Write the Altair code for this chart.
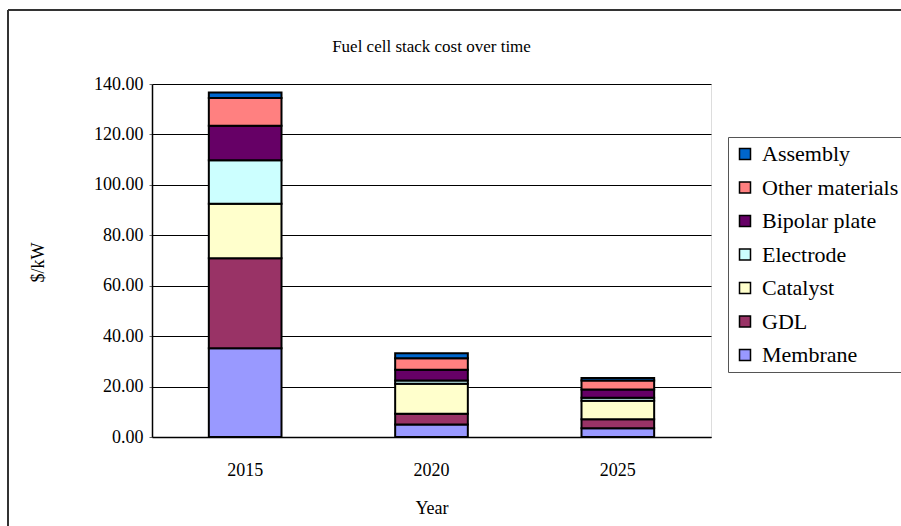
import altair as alt
import pandas as pd

# Stack cost components ($/kW) by year
years = ["2015", "2020", "2025"]
components = ["Membrane", "GDL", "Catalyst", "Electrode", "Bipolar plate", "Other materials", "Assembly"]
membrane = [35.2, 5.0, 3.5]
gdl = [35.7, 4.2, 3.5]
catalyst = [21.6, 11.9, 7.4]
electrode = [17.3, 1.3, 1.2]
bipolar_plate = [13.6, 4.3, 3.2]
other_materials = [11.0, 4.5, 3.6]
assembly = [2.2, 2.0, 1.0]

colors = ["#9999FF", "#993366", "#FFFFCC", "#CCFFFF", "#660066", "#FF8080", "#0066CC"]
series = [membrane, gdl, catalyst, electrode, bipolar_plate, other_materials, assembly]

chart_title = "Fuel cell stack cost over time"

rows = []
for i, (name, vals) in enumerate(zip(components, series)):
    for y, v in zip(years, vals):
        rows.append({"Year": y, "Component": name, "Cost": v, "order": i})
df = pd.DataFrame(rows)

FONT = "Liberation Serif"
legend_order = components[::-1]
legend_colors = colors[::-1]

bars = alt.Chart(df).mark_bar(stroke="black", strokeWidth=2).encode(
    x=alt.X(
        "Year:N",
        sort=years,
        scale=alt.Scale(paddingInner=0.61, paddingOuter=0.305),
        axis=alt.Axis(
            title="Year",
            labelAngle=0,
            ticks=False,
            labelPadding=24,
            labelFontSize=18,
            labelFont=FONT,
            labelColor="black",
            titleFont=FONT,
            titleFontSize=18,
            titleFontWeight="normal",
            titleColor="black",
            titleY=71,
            titleBaseline="middle",
            domainColor="black",
            domainWidth=1.5,
        ),
    ),
    y=alt.Y(
        "Cost:Q",
        stack="zero",
        scale=alt.Scale(domain=[0, 140], nice=False),
        axis=alt.Axis(
            title="$/kW",
            values=[0, 20, 40, 60, 80, 100, 120, 140],
            format=".2f",
            labelFontSize=18,
            labelFont=FONT,
            labelColor="black",
            labelPadding=6,
            tickSize=3,
            tickColor="#666666",
            gridColor="black",
            gridOpacity=1,
            gridWidth=1,
            domainColor="black",
            domainWidth=1.5,
            titleFont=FONT,
            titleFontSize=18,
            titleFontWeight="normal",
            titleColor="black",
            titleAngle=270,
            titleX=-114,
            titleY=178,
            titleAlign="center",
            titleBaseline="middle",
        ),
    ),
    color=alt.Color(
        "Component:N",
        scale=alt.Scale(domain=legend_order, range=legend_colors),
        legend=alt.Legend(
            title=None,
            orient="none",
            legendX=576,
            legendY=53,
            padding=6,
            strokeColor="#555555",
            fillColor="white",
            labelFont=FONT,
            labelFontSize=22,
            labelColor="black",
            labelOffset=6,
            symbolType="square",
            symbolSize=121,
            symbolStrokeColor="black",
            symbolStrokeWidth=1.5,
            rowPadding=11.5,
            labelLimit=300,
        ),
    ),
    order=alt.Order("order:Q", sort="ascending"),
)

single = alt.Data(values=[{}])

# Chart title drawn as a text mark above the plot area
title_mark = alt.Chart(single).mark_text(
    text=chart_title, font=FONT, fontSize=17, color="black", align="center", baseline="middle"
).encode(x=alt.value(279.5), y=alt.value(-37))

# Outer frame of the chart (left and top edges)
frame_left = alt.Chart(single).mark_rule(color="#333333", strokeWidth=2).encode(
    x=alt.value(-144), y=alt.value(-74), y2=alt.value(460)
)
frame_top = alt.Chart(single).mark_rule(color="#333333", strokeWidth=2).encode(
    x=alt.value(-144), x2=alt.value(760), y=alt.value(-74)
)

chart = alt.layer(bars, title_mark, frame_left, frame_top).properties(
    width=559,
    height=353,
    autosize=alt.AutoSizeParams(type="none"),
    padding={"left": 152, "top": 84, "right": 190, "bottom": 89},
).configure_view(stroke=None).configure(
    background="white", font=FONT
).configure_legend(labelFont=FONT)

chart.save("out.html", embed_options={"renderer": "svg", "actions": False})
